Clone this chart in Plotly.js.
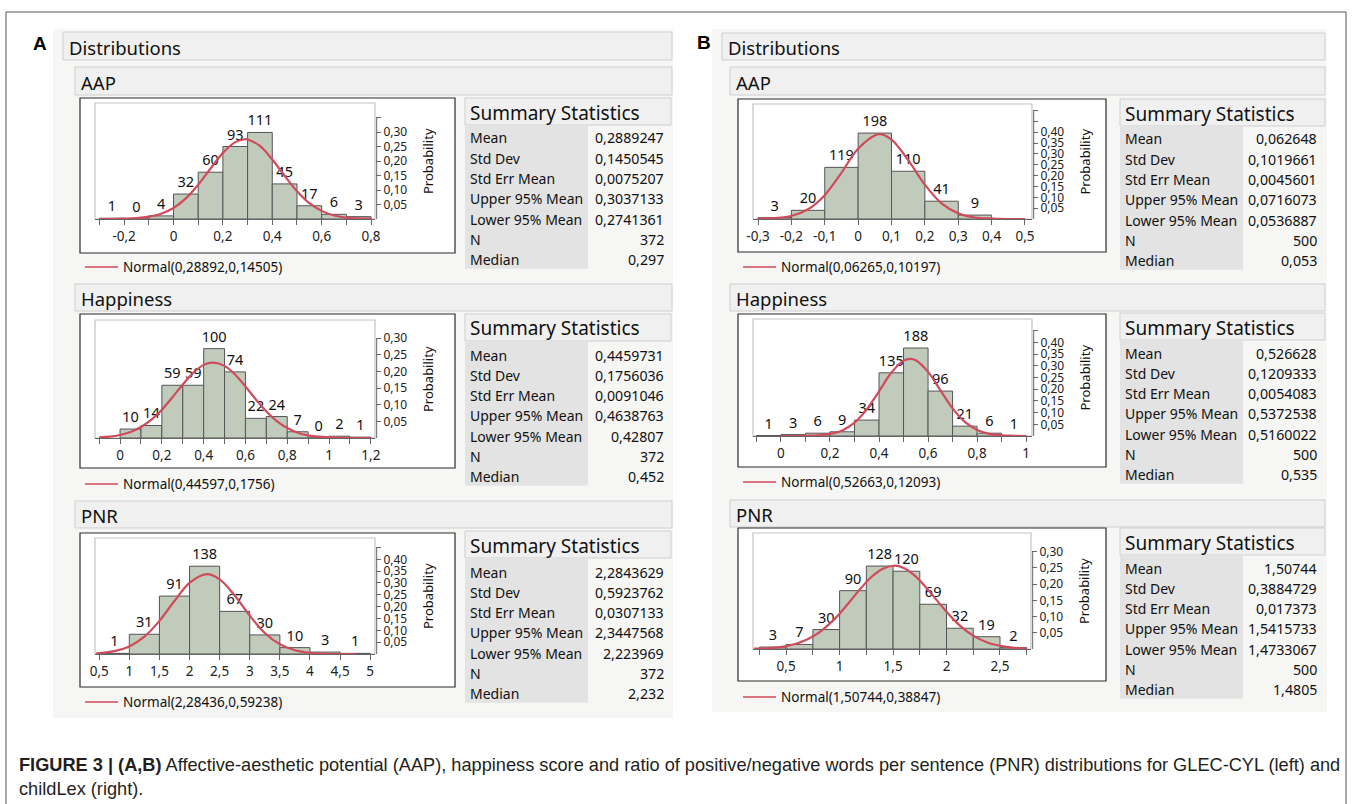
<!DOCTYPE html>
<html>
<head>
<meta charset="utf-8">
<script src="https://cdn.plot.ly/plotly-3.0.1.min.js"></script>
<style>html,body{margin:0;padding:0;background:#fff;}#chart{width:1357px;height:804px;}</style>
</head>
<body>
<div id="chart"></div>
<script>
// ---------------- DATA ----------------
// Panel A (GLEC-CYL)
const aapA_binStart = -0.3, aapA_binWidth = 0.1, aapA_N = 372;
const aapA_counts = [1, 0, 4, 32, 60, 93, 111, 45, 17, 6, 3];
const aapA_curveX = [-0.3,-0.25,-0.2,-0.15,-0.1,-0.05,0,0.05,0.1,0.15,0.2,0.25,0.289,0.3,0.35,0.4,0.45,0.5,0.55,0.6,0.65,0.7,0.75,0.8];
const aapA_curveY = [0.000,0.000,0.001,0.003,0.008,0.018,0.038,0.071,0.118,0.174,0.228,0.265,0.275,0.274,0.252,0.205,0.149,0.096,0.055,0.028,0.012,0.005,0.002,0.001];
const aapA_xTickVals = [-0.3,-0.2,-0.1,0,0.1,0.2,0.3,0.4,0.5,0.6,0.7,0.8];
const aapA_xTickText = ['','-0,2','','0','','0,2','','0,4','','0,6','','0,8'];
const aapA_yTickVals = [0.05,0.10,0.15,0.20,0.25,0.30,0.35];
const aapA_yTickText = ['0,05','0,10','0,15','0,20','0,25','0,30',''];

const hapA_binStart = 0, hapA_binWidth = 0.1, hapA_N = 372;
const hapA_counts = [10, 14, 59, 59, 100, 74, 22, 24, 7, 0, 2, 1];
const hapA_curveX = [-0.1,-0.05,0,0.05,0.1,0.15,0.2,0.25,0.3,0.35,0.4,0.446,0.5,0.55,0.6,0.65,0.7,0.75,0.8,0.85,0.9,0.95,1.0,1.05,1.1,1.15,1.2];
const hapA_curveY = [0.002,0.004,0.009,0.018,0.033,0.055,0.085,0.122,0.161,0.196,0.220,0.227,0.217,0.191,0.155,0.116,0.080,0.051,0.030,0.016,0.008,0.004,0.002,0.001,0.000,0.000,0.000];
const hapA_xTickVals = [-0.1,0,0.1,0.2,0.3,0.4,0.5,0.6,0.7,0.8,0.9,1.0,1.1,1.2];
const hapA_xTickText = ['','0','','0,2','','0,4','','0,6','','0,8','','1','','1,2'];
const hapA_yTickVals = [0.05,0.10,0.15,0.20,0.25,0.30];
const hapA_yTickText = ['0,05','0,10','0,15','0,20','0,25','0,30'];

const pnrA_binStart = 0.5, pnrA_binWidth = 0.5, pnrA_N = 372;
const pnrA_counts = [1, 31, 91, 138, 67, 30, 10, 3, 1];
const pnrA_curveX = [0.45,0.75,1.0,1.25,1.5,1.75,2.0,2.284,2.5,2.75,3.0,3.25,3.5,3.75,4.0,4.25,4.5,4.75];
const pnrA_curveY = [0.003,0.012,0.032,0.073,0.140,0.224,0.300,0.337,0.315,0.247,0.162,0.089,0.041,0.016,0.005,0.001,0.000,0.000];
const pnrA_xTickVals = [0.5,1,1.5,2,2.5,3,3.5,4,4.5,5];
const pnrA_xTickText = ['0,5','1','1,5','2','2,5','3','3,5','4','4,5','5'];
const pnrA_yTickVals = [0.05,0.10,0.15,0.20,0.25,0.30,0.35,0.40,0.45];
const pnrA_yTickText = ['0,05','0,10','0,15','0,20','0,25','0,30','0,35','0,40',''];

// Panel B (childLex)
const aapB_binStart = -0.3, aapB_binWidth = 0.1, aapB_N = 500;
const aapB_counts = [3, 20, 119, 198, 110, 41, 9];
const aapB_curveX = [-0.3,-0.25,-0.2,-0.15,-0.1,-0.05,0,0.0627,0.1,0.15,0.2,0.25,0.3,0.35,0.4,0.45,0.5];
const aapB_curveY = [0.001,0.004,0.014,0.045,0.110,0.213,0.324,0.391,0.366,0.271,0.158,0.072,0.026,0.007,0.002,0.000,0.000];
const aapB_xTickVals = [-0.3,-0.2,-0.1,0,0.1,0.2,0.3,0.4,0.5];
const aapB_xTickText = ['-0,3','-0,2','-0,1','0','0,1','0,2','0,3','0,4','0,5'];
const aapB_yTickVals = [0.05,0.10,0.15,0.20,0.25,0.30,0.35,0.40,0.45,0.50];
const aapB_yTickText = ['0,05','0,10','0,15','0,20','0,25','0,30','0,35','0,40','',''];

const hapB_binStart = -0.1, hapB_binWidth = 0.1, hapB_N = 500;
const hapB_counts = [1, 3, 6, 9, 34, 135, 188, 96, 21, 6, 1];
const hapB_curveX = [0.0,0.05,0.1,0.15,0.2,0.25,0.3,0.35,0.4,0.45,0.5,0.527,0.55,0.6,0.65,0.7,0.75,0.8,0.85,0.9,0.95,1.0];
const hapB_curveY = [0.000,0.000,0.001,0.003,0.009,0.024,0.057,0.114,0.191,0.270,0.322,0.330,0.324,0.274,0.196,0.118,0.060,0.026,0.009,0.003,0.001,0.000];
const hapB_xTickVals = [-0.1,0,0.1,0.2,0.3,0.4,0.5,0.6,0.7,0.8,0.9,1.0];
const hapB_xTickText = ['','0','','0,2','','0,4','','0,6','','0,8','','1'];
const hapB_yTickVals = [0.05,0.10,0.15,0.20,0.25,0.30,0.35,0.40,0.45];
const hapB_yTickText = ['0,05','0,10','0,15','0,20','0,25','0,30','0,35','0,40',''];

const pnrB_binStart = 0.25, pnrB_binWidth = 0.25, pnrB_N = 500;
const pnrB_counts = [3, 7, 30, 90, 128, 120, 69, 32, 19, 2];
const pnrB_curveX = [0.2,0.3,0.4,0.5,0.6,0.7,0.8,0.9,1.0,1.1,1.2,1.3,1.4,1.507,1.6,1.7,1.8,1.9,2.0,2.1,2.2,2.3,2.4,2.5,2.6,2.7,2.75];
const pnrB_curveY = [0.001,0.002,0.004,0.009,0.017,0.030,0.049,0.076,0.109,0.148,0.188,0.223,0.247,0.257,0.250,0.227,0.193,0.154,0.115,0.080,0.052,0.032,0.018,0.010,0.005,0.002,0.002];
const pnrB_xTickVals = [0.25,0.5,0.75,1,1.25,1.5,1.75,2,2.25,2.5,2.75];
const pnrB_xTickText = ['','0,5','','1','','1,5','','2','','2,5',''];
const pnrB_yTickVals = [0.05,0.10,0.15,0.20,0.25,0.30];
const pnrB_yTickText = ['0,05','0,10','0,15','0,20','0,25','0,30'];

// Summary statistics
const statLabels = ['Mean','Std Dev','Std Err Mean','Upper 95% Mean','Lower 95% Mean','N','Median'];
const aapA_stats = ['0,2889247','0,1450545','0,0075207','0,3037133','0,2741361','372','0,297'];
const hapA_stats = ['0,4459731','0,1756036','0,0091046','0,4638763','0,42807','372','0,452'];
const pnrA_stats = ['2,2843629','0,5923762','0,0307133','2,3447568','2,223969','372','2,232'];
const aapB_stats = ['0,062648','0,1019661','0,0045601','0,0716073','0,0536887','500','0,053'];
const hapB_stats = ['0,526628','0,1209333','0,0054083','0,5372538','0,5160022','500','0,535'];
const pnrB_stats = ['1,50744','0,3884729','0,017373','1,5415733','1,4733067','500','1,4805'];

const aapA_legend = 'Normal(0,28892,0,14505)';
const hapA_legend = 'Normal(0,44597,0,1756)';
const pnrA_legend = 'Normal(2,28436,0,59238)';
const aapB_legend = 'Normal(0,06265,0,10197)';
const hapB_legend = 'Normal(0,52663,0,12093)';
const pnrB_legend = 'Normal(1,50744,0,38847)';

const sectionNames = ['AAP','Happiness','PNR'];
const captionLine1 = '<b>FIGURE 3 | (A,B)</b> Affective-aesthetic potential (AAP), happiness score and ratio of positive/negative words per sentence (PNR) distributions for GLEC-CYL (left) and';
const captionLine2 = 'childLex (right).';

// ---------------- LAYOUT GEOMETRY (pixels) ----------------
const W = 1357, H = 804;
const PX = x => x / W;
const PY = y => 1 - y / H;
const FONT = 'Noto Sans, sans-serif';
const TXT = '#111';

const charts = [
  {start:aapA_binStart,w:aapA_binWidth,N:aapA_N,counts:aapA_counts,cx:aapA_curveX,cy:aapA_curveY,xtv:aapA_xTickVals,xtt:aapA_xTickText,ytv:aapA_yTickVals,ytt:aapA_yTickText,stats:aapA_stats,legend:aapA_legend,
   xr:[-0.318,0.816], yr:[0,0.40], plotX:[95,375], plotY:[103,219], frame:[80,455,98,253], side:'A', header:[67,95], stH:[98,125], row0:138, legY:267},
  {start:hapA_binStart,w:hapA_binWidth,N:hapA_N,counts:hapA_counts,cx:hapA_curveX,cy:hapA_curveY,xtv:hapA_xTickVals,xtt:hapA_xTickText,ytv:hapA_yTickVals,ytt:hapA_yTickText,stats:hapA_stats,legend:hapA_legend,
   xr:[-0.12,1.22], yr:[0,0.355], plotX:[95,375], plotY:[320,438], frame:[80,455,314,468], side:'A', header:[284,311], stH:[314,341], row0:355, legY:484},
  {start:pnrA_binStart,w:pnrA_binWidth,N:pnrA_N,counts:pnrA_counts,cx:pnrA_curveX,cy:pnrA_curveY,xtv:pnrA_xTickVals,xtt:pnrA_xTickText,ytv:pnrA_yTickVals,ytt:pnrA_yTickText,stats:pnrA_stats,legend:pnrA_legend,
   xr:[0.43,5.08], yr:[0,0.49], plotX:[95,375], plotY:[538,654], frame:[80,455,533,687], side:'A', header:[501,528], stH:[531,558], row0:572, legY:702},
  {start:aapB_binStart,w:aapB_binWidth,N:aapB_N,counts:aapB_counts,cx:aapB_curveX,cy:aapB_curveY,xtv:aapB_xTickVals,xtt:aapB_xTickText,ytv:aapB_yTickVals,ytt:aapB_yTickText,stats:aapB_stats,legend:aapB_legend,
   xr:[-0.315,0.521], yr:[0,0.53], plotX:[753,1032], plotY:[104,219], frame:[738,1106,99,252], side:'B', header:[67,95], stH:[99,126], row0:139, legY:267},
  {start:hapB_binStart,w:hapB_binWidth,N:hapB_N,counts:hapB_counts,cx:hapB_curveX,cy:hapB_curveY,xtv:hapB_xTickVals,xtt:hapB_xTickText,ytv:hapB_yTickVals,ytt:hapB_yTickText,stats:hapB_stats,legend:hapB_legend,
   xr:[-0.114,1.024], yr:[0,0.50], plotX:[753,1032], plotY:[319,436], frame:[738,1106,314,467], side:'B', header:[284,311], stH:[313,340], row0:353, legY:482},
  {start:pnrB_binStart,w:pnrB_binWidth,N:pnrB_N,counts:pnrB_counts,cx:pnrB_curveX,cy:pnrB_curveY,xtv:pnrB_xTickVals,xtt:pnrB_xTickText,ytv:pnrB_yTickVals,ytt:pnrB_yTickText,stats:pnrB_stats,legend:pnrB_legend,
   xr:[0.19,2.79], yr:[0,0.358], plotX:[753,1031], plotY:[533,649], frame:[738,1106,528,681], side:'B', header:[500,527], stH:[528,555], row0:568, legY:697}
];
const sides = {
  A:{panel:[53,673,29,718], dist:[63,672,32,60], hdrX:[75,672], stX:[465,671], labRight:588, valRight:666, letter:[40,44], probX:428},
  B:{panel:[712,1327,29,712], dist:[722,1325,33,60], hdrX:[730,1325], stX:[1120,1325], labRight:1243, valRight:1319, letter:[704,43], probX:1084}
};

const traces = [];
const shapes = [];
const annotations = [];
const layout = {
  width: W, height: H, margin:{l:0,r:0,t:0,b:0},
  paper_bgcolor:'#ffffff', plot_bgcolor:'rgba(0,0,0,0)',
  showlegend:false, bargap:0, font:{family:FONT, color:TXT},
  shapes: shapes, annotations: annotations
};

function rect(x0,x1,y0,y1,fill,line,lw){
  shapes.push({type:'rect',xref:'paper',yref:'paper',x0:PX(x0),x1:PX(x1),y0:PY(y1),y1:PY(y0),
    fillcolor:fill,line:{color:line,width:lw===undefined?1:lw},layer:'below'});
}
function text(x,y,t,size,opts){
  annotations.push(Object.assign({xref:'paper',yref:'paper',x:PX(x),y:PY(y),text:t,showarrow:false,
    xanchor:'left',yanchor:'middle',font:{family:FONT,size:size,color:TXT}},opts||{}));
}

// outer frame
rect(6,1346,12,820,'rgba(0,0,0,0)','#555',1);

['A','B'].forEach(s=>{
  const g = sides[s];
  rect(g.panel[0],g.panel[1],g.panel[2],g.panel[3],'#f6f6f4','rgba(0,0,0,0)',0);
  rect(g.dist[0],g.dist[1],g.dist[2],g.dist[3],'#f0f0f0','#cfcfcf',1);
  text(g.dist[0]+4,(g.dist[2]+g.dist[3])/2+1,'Distributions',18.5);
  text(g.letter[0],g.letter[1],'<b>'+s+'</b>',18,{xanchor:'center',font:{family:'Liberation Sans, Arial, sans-serif',size:19,color:'#000'}});
});

charts.forEach((c,i)=>{
  const g = sides[c.side];
  const n = i+1;
  const xa = n===1?'xaxis':'xaxis'+n, ya = n===1?'yaxis':'yaxis'+n;
  const xid = n===1?'x':'x'+n, yid = n===1?'y':'y'+n;

  // section header
  rect(g.hdrX[0],g.hdrX[1],c.header[0],c.header[1],'#f0f0f0','#cfcfcf',1);
  text(g.hdrX[0]+4,(c.header[0]+c.header[1])/2+1,sectionNames[i%3],18.5);

  // chart frame & plot rect
  rect(c.frame[0],c.frame[1],c.frame[2],c.frame[3],'#ffffff','#2b2b2b',1.2);
  rect(c.plotX[0],c.plotX[1],c.plotY[0],c.plotY[1],'#ffffff','#c4c4c4',1.2);

  // bars
  const xs = c.counts.map((v,k)=>c.start + (k+0.5)*c.w);
  traces.push({type:'bar',x:xs,y:c.counts.map(v=>v/c.N),width:c.counts.map(()=>c.w),
    xaxis:xid,yaxis:yid,marker:{color:'#c1cbbc',line:{color:'#555',width:1}},
    text:c.counts.map(String),textposition:'outside',constraintext:'none',cliponaxis:false,
    textfont:{family:FONT,size:14.5,color:TXT},hoverinfo:'skip'});
  // normal curve
  traces.push({type:'scatter',mode:'lines',x:c.cx,y:c.cy,xaxis:xid,yaxis:yid,
    line:{color:'#cf4b5c',width:2.2,shape:'spline',smoothing:1},hoverinfo:'skip',cliponaxis:false});

  layout[xa] = {domain:[PX(c.plotX[0]),PX(c.plotX[1])],range:c.xr,anchor:yid,showgrid:false,zeroline:false,
    showline:true,linecolor:'#666',linewidth:1,ticks:'outside',ticklen:5,tickcolor:'#666',
    tickmode:'array',tickvals:c.xtv,ticktext:c.xtt,tickfont:{family:FONT,size:13.5,color:'#222'},fixedrange:true};
  layout[ya] = {domain:[PY(c.plotY[1]),PY(c.plotY[0])],range:c.yr,anchor:xid,side:'right',showgrid:false,zeroline:false,
    showline:false,ticks:'outside',ticklen:5,tickcolor:'#666',
    tickmode:'array',tickvals:c.ytv,ticktext:c.ytt,tickfont:{family:FONT,size:12,color:'#222'},fixedrange:true};
  // y axis line (from 0 to the last tick)
  shapes.push({type:'line',xref:xid+' domain',yref:yid,x0:1.006,x1:1.006,y0:0,y1:c.ytv[c.ytv.length-1],line:{color:'#666',width:1}});

  // Probability title
  text(g.probX,(c.plotY[0]+c.plotY[1])/2,'Probability',13,{xanchor:'center',textangle:-90});

  // legend
  shapes.push({type:'line',xref:'paper',yref:'paper',x0:PX(c.frame[0]+5),x1:PX(c.frame[0]+38),y0:PY(c.legY),y1:PY(c.legY),line:{color:'#cf4b5c',width:1.3}});
  text(c.frame[0]+41,c.legY,c.legend,13.5);

  // summary statistics
  rect(g.stX[0],g.stX[1],c.stH[0],c.stH[1],'#f0f0f0','#cfcfcf',1);
  text(g.stX[0]+3,(c.stH[0]+c.stH[1])/2+1,'Summary Statistics',19);
  const rowH = 20.3;
  rect(g.stX[0],g.labRight,c.stH[1],c.row0+6*rowH+9,'#e3e3e3','rgba(0,0,0,0)',0);
  statLabels.forEach((lab,k)=>{
    const y = c.row0 + k*rowH;
    text(g.stX[0]+3,y,lab,14);
    text(g.valRight,y,c.stats[k],14.2,{xanchor:'right'});
  });
});

// caption
const capFont = {family:'Liberation Sans, Arial, sans-serif',size:18.2,color:'#231f20'};
text(17,765,captionLine1,18.2,{font:capFont});
text(17,789,captionLine2,18.2,{font:capFont});

Plotly.newPlot('chart',traces,layout,{displayModeBar:false,staticPlot:true});
</script>
</body>
</html>
